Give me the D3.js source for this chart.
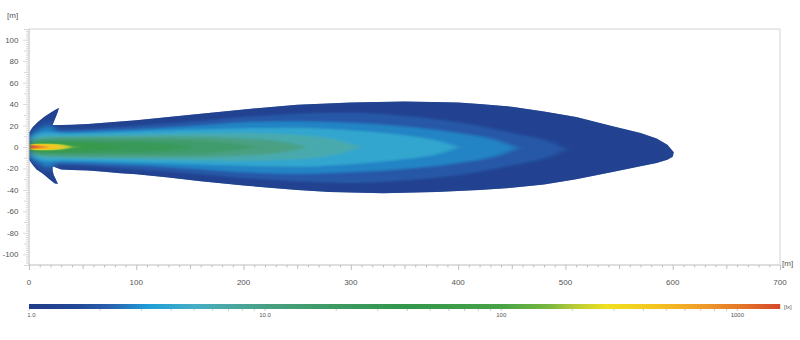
<!DOCTYPE html>
<html><head><meta charset="utf-8">
<script src="https://cdn.jsdelivr.net/npm/d3@7"></script>
<style>body{margin:0;background:#fff}svg{display:block;font-family:"Liberation Sans",Arial,sans-serif}</style>
</head><body><svg id="c" width="800" height="340"></svg>
<script>
// ---- data ----
const xTicks = [0,100,200,300,400,500,600,700];
const yTicks = [-100,-80,-60,-40,-20,0,20,40,60,80,100];
const barTickLabels = [[1,"1.0"],[10,"10.0"],[100,"100"],[1000,"1000"]];
const barMinor = [1,2,3,4,5,6,7,8,9,10,20,30,40,50,60,70,80,90,100,200,300,400,500,600,700,800,900,1000];
const colorStops = [1,1.6,2.2,3.2,5,7,10,20,40,100,160,200,280,450,650,1000,1500];
const colorValues = ["#203c88","#224898","#2a60ae","#1f9ed8","#45aec6","#4aa8a4","#48a084","#3d9a62","#32974c","#48a246","#7ab840","#b4ca38","#f0e020","#f4c420","#f0a428","#e67a2a","#d6482a"];
// 1 lx outline [x, y] (m)
const outline = [[0,-12],[0,13],[3,18],[8,23],[14,28],[20,32],[25,35],[28,36.5],[27,33],[25,28],[23,23],[22,20.5],[30,20.5],[40,20.8],[55,21.5],[70,22.5],[85,23.8],[100,25],[130,28],[160,31],[200,35],[250,39.5],[300,41.5],[350,42.5],[400,41.5],[420,40],[450,37.5],[480,33],[510,28],[545,19],[570,13],[585,8],[595,2],[601,-5],[600,-9],[595,-12],[585,-15],[570,-18],[545,-23],[510,-30],[480,-35],[450,-38],[420,-40],[380,-42],[330,-43],[280,-42],[250,-40],[200,-36],[160,-32],[130,-28.5],[100,-25.5],[85,-24.5],[70,-23],[55,-22],[40,-21.5],[30,-21],[22,-18],[22,-22],[23,-26],[25,-30],[27,-34.5],[24,-34],[19,-30],[13,-25],[7,-21],[3,-16]];
// inner isolux levels (lx) and their contours [x, top y, bottom y]
const levels = [1.7,2.3,3.2,5,8,13,20,35,70,150,300,600,1000];
const contours = [
 [[0,10,-9],[10,19,-18],[20,25,-24],[24,17,-16],[30,16.5,-17],[60,17,-18],[100,20,-21],[150,23.5,-24.5],[200,28,-29],[250,31,-32],[300,32,-33.5],[350,29,-31],[400,23,-26],[450,13,-17],[490,3,-7],[500,-2,-2]],
 [[0,9,-8],[10,16,-15],[20,20,-19],[25,14,-14],[30,14,-14.5],[60,15,-15.5],[100,16.5,-17],[150,19.5,-20],[200,23,-23.5],[250,24,-25],[300,22.5,-23.5],[350,19,-20.5],[400,13,-15],[440,5,-7],[455,-1,-1]],
 [[0,8,-7.5],[10,13,-12.5],[20,14,-13.5],[30,12.5,-12.5],[60,13,-13],[100,14.5,-14.5],[150,16,-16],[200,17.5,-17.5],[250,18,-18.5],[300,15.5,-16],[350,11,-11.5],[385,5,-5.5],[400,0,0]],
 [[0,6,-6],[10,10,-10],[20,10.5,-10.5],[30,10.5,-10.5],[60,11,-11],[100,11.5,-11.5],[150,12.5,-12.5],[200,13,-13],[250,11.5,-11.5],[290,6,-6],[310,0,0]],
 [[0,4.5,-4.5],[5,7,-7],[15,8.5,-8.5],[30,9,-9],[60,9.5,-9.5],[100,9.5,-9.5],[150,9.5,-9.5],[200,8,-8],[240,4.5,-4.5],[258,0,0]],
 [[0,3.5,-3.5],[5,6,-6],[15,7,-7],[30,7,-7],[60,7.2,-7.2],[100,7.2,-7.2],[150,6.5,-6.5],[185,4,-4],[215,0,0]],
 [[2,3,-3],[8,5,-5],[20,5.5,-5.5],[40,5.5,-5.5],[80,5,-5],[120,4,-4],[155,0,0]],
 [[2,2.5,-2.5],[8,4,-4],[20,4.2,-4.2],[40,3.8,-3.8],[60,2.8,-2.8],[85,0,0]],
 [[1,2.2,-2.2],[8,3.5,-3.5],[20,3.5,-3.5],[35,2.6,-2.6],[50,0,0]],
 [[1,2,-2],[8,3,-3],[20,3,-3],[32,2,-2],[40,0,0]],
 [[1,1.8,-1.8],[6,2.6,-2.6],[18,2.4,-2.4],[28,1.3,-1.3],[33,0,0]],
 [[1,1.5,-1.5],[4,1.8,-1.8],[10,1.5,-1.5],[15,0.9,-0.9],[18,0,0]],
 [[1,1.2,-1.2],[3,1.3,-1.3],[7,0.9,-0.9],[10,0,0]]
];

// ---- scales ----
const svg = d3.select("#c");
const x = d3.scaleLinear().domain([0,700]).range([29,780]);
const y = d3.scaleLinear().domain([-110,110]).range([265,29]);
const color = d3.scaleLog().domain(colorStops).range(colorValues).interpolate(d3.interpolateRgb).clamp(true);
const bar = d3.scaleLog().domain([1,1516]).range([29,780]);

// frame
svg.append("path").attr("d",`M${x(0)},${y(110)}H${x(700)}V${y(-110)}`).attr("fill","none").attr("stroke","#d4d4d4").attr("stroke-width",1);

// ---- heatmap ----
const defs = svg.append("defs");
const outlinePath = d3.line().x(d=>x(d[0])).y(d=>y(d[1])).curve(d3.curveLinearClosed)(outline);
defs.append("clipPath").attr("id","clip").append("path").attr("d", outlinePath);
const f = defs.append("filter").attr("id","blur").attr("x","-10%").attr("y","-30%").attr("width","120%").attr("height","160%");
f.append("feGaussianBlur").attr("stdDeviation","4 1.3");
const f2 = defs.append("filter").attr("id","blur2").attr("x","-20%").attr("y","-50%").attr("width","140%").attr("height","200%");
f2.append("feGaussianBlur").attr("stdDeviation","2 0.6");

svg.append("path").attr("d",outlinePath).attr("fill",color(1.3));
const clipG = svg.append("g").attr("clip-path","url(#clip)");
const hg = clipG.append("g").attr("filter","url(#blur)");
const cg = clipG.append("g").attr("filter","url(#blur2)");
hg.append("path").attr("d",outlinePath).attr("fill",color(1.3));
const area = d3.area().x(d=>x(d[0])).y0(d=>y(d[2])).y1(d=>y(d[1])).curve(d3.curveMonotoneX);
levels.forEach((lv,i)=>{
  const next = i<levels.length-1 ? levels[i+1] : 1500;
  (lv>=70 ? cg : hg).append("path").attr("d",area(contours[i])).attr("fill",color(Math.sqrt(lv*next)));
});

// ---- axes ----
const axisCol = "#bdbdbd", txt = "#555";
const ax = svg.append("g");
ax.append("line").attr("x1",x(0)).attr("x2",x(700)).attr("y1",y(-110)).attr("y2",y(-110)).attr("stroke",axisCol);
ax.append("line").attr("x1",x(0)).attr("x2",x(0)).attr("y1",y(-110)).attr("y2",y(110)).attr("stroke",axisCol);
d3.range(0,701,10).forEach(v=>{
  const len = v%100===0?5:(v%50===0?4:2.5);
  ax.append("line").attr("x1",x(v)+0.5).attr("x2",x(v)+0.5).attr("y1",y(-110)).attr("y2",y(-110)+len).attr("stroke",axisCol);
});
d3.range(-110,111,2).forEach(v=>{
  const len = v%20===0?6:(v%10===0?5:3);
  ax.append("line").attr("x1",x(0)-len).attr("x2",x(0)).attr("y1",y(v)+0.5).attr("y2",y(v)+0.5).attr("stroke","#d8d8d8");
});
xTicks.forEach(v=>ax.append("text").attr("x",x(v)).attr("y",285).attr("text-anchor","middle").attr("font-size",8).attr("fill",txt).text(v));
yTicks.forEach(v=>ax.append("text").attr("x",18.5).attr("y",y(v)+3).attr("text-anchor","end").attr("font-size",8).attr("fill",txt).text(v));
svg.append("text").attr("x",7).attr("y",18).attr("font-size",8).attr("fill",txt).text("[m]");
svg.append("text").attr("x",782).attr("y",266).attr("font-size",8).attr("fill",txt).text("[m]");

// ---- colour bar ----
const cb = svg.append("g");
d3.range(0,751).forEach(s=>{
  const px = 29+s;
  cb.append("rect").attr("x",px).attr("y",304).attr("width",1.2).attr("height",5).attr("fill",color(bar.invert(px+0.5)));
});
barMinor.forEach(v=>cb.append("line").attr("x1",bar(v)).attr("x2",bar(v)).attr("y1",309).attr("y2",311).attr("stroke","#ccc"));
barTickLabels.forEach(([v,t])=>cb.append("text").attr("x",bar(v)+(v===1?2.5:0)).attr("y",317).attr("text-anchor","middle").attr("font-size",6).attr("fill",txt).text(t));
svg.append("text").attr("x",784).attr("y",309).attr("font-size",6).attr("fill",txt).text("[lx]");
</script></body></html>
